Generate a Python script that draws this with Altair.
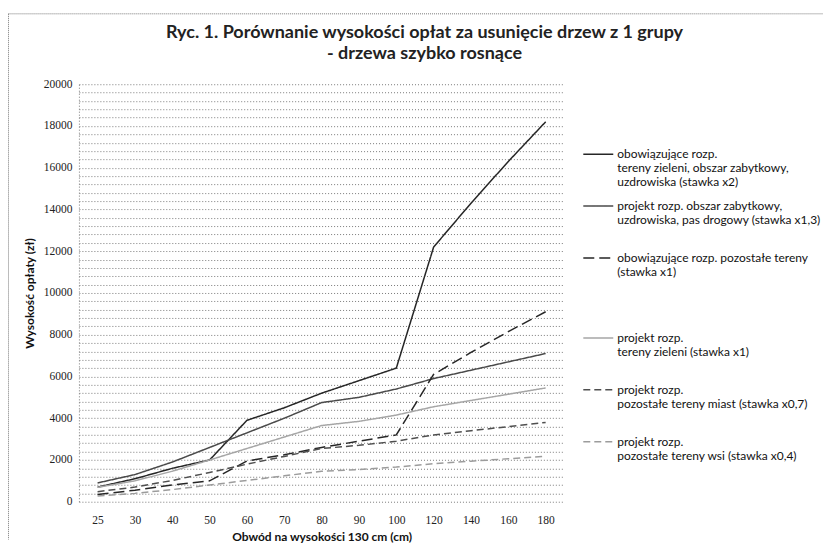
import altair as alt
import pandas as pd

# --- data ---
obwod = ["25", "30", "40", "50", "60", "70", "80", "90", "100", "120", "140", "160", "180"]

serie = [
    "obowiązujące rozp.|tereny zieleni, obszar zabytkowy,|uzdrowiska (stawka x2)",
    "projekt rozp. obszar zabytkowy,|uzdrowiska, pas drogowy (stawka x1,3)| ",
    "obowiązujące rozp. pozostałe tereny|(stawka x1)| | | ",
    "projekt rozp.|tereny zieleni (stawka x1)| ",
    "projekt rozp.|pozostałe tereny miast (stawka x0,7)| ",
    "projekt rozp.|pozostałe tereny wsi (stawka x0,4)",
]

s_obow_x2 = [700, 1100, 1600, 2000, 3900, 4500, 5200, 5800, 6400, 12200, 14300, 16300, 18200]
s_proj_x13 = [900, 1300, 1900, 2600, 3300, 4000, 4750, 5000, 5400, 5900, 6300, 6700, 7100]
s_obow_x1 = [350, 550, 800, 1000, 1950, 2250, 2600, 2900, 3200, 6100, 7150, 8150, 9100]
s_proj_x1 = [690, 1000, 1460, 2000, 2550, 3100, 3650, 3850, 4150, 4550, 4850, 5150, 5450]
s_proj_x07 = [480, 700, 1020, 1400, 1800, 2170, 2550, 2700, 2900, 3200, 3400, 3600, 3800]
s_proj_x04 = [280, 400, 580, 800, 1020, 1240, 1460, 1540, 1660, 1820, 1940, 2060, 2180]

values = [s_obow_x2, s_proj_x13, s_obow_x1, s_proj_x1, s_proj_x07, s_proj_x04]

colors = ["#262626", "#4a4a4a", "#262626", "#a6a6a6", "#4f4f4f", "#9c9c9c"]
dashes = [[1, 0], [1, 0], [11, 5], [1, 0], [7, 4], [7, 4]]

rows = []
for name, vals in zip(serie, values):
    for x, v in zip(obwod, vals):
        rows.append({"obwod": x, "seria": name, "wartosc": v})
df = pd.DataFrame(rows)

sans = "Lato, 'Open Sans', sans-serif"
serif = "'Liberation Serif', 'DejaVu Serif', serif"

legend = alt.Legend(
    title=None,
    orient="none",
    legendX=504,
    legendY=54,
    symbolType="stroke",
    symbolSize=900,
    symbolStrokeWidth=1.5,
    labelExpr="split(datum.label, '|')",
    labelFont=sans,
    labelFontSize=12,
    labelBaseline="middle",
    labelOffset=3,
    labelLimit=212,
    labelColor="#111111",
    rowPadding=2,
    padding=0,
)

lines = alt.Chart(df).mark_line(strokeWidth=1.5).encode(
    x=alt.X(
        "obwod:N",
        sort=obwod,
        scale=alt.Scale(type="point", padding=0.5),
        axis=alt.Axis(
            title="Obwód  na wysokości 130 cm (cm)",
            labelAngle=0,
            ticks=False,
            tickSize=0,
            domain=False,
            grid=False,
            labelFont=serif,
            labelFontSize=11.5,
            labelColor="#222222",
            labelPadding=13,
            titleFont=sans,
            titleFontSize=12,
            titleFontWeight="bold",
            titleColor="#111111",
            titlePadding=5,
        ),
    ),
    y=alt.Y(
        "wartosc:Q",
        scale=alt.Scale(domain=[0, 20000], nice=False),
        axis=alt.Axis(
            title="Wysokość opłaty (zł)",
            values=list(range(0, 20001, 400)),
            labelExpr="datum.value % 2000 == 0 ? datum.label : ''",
            format="d",
            ticks=False,
            tickSize=0,
            grid=True,
            gridColor="#7a7a7a",
            gridDash=[1, 2],
            gridWidth=1,
            domain=True,
            domainColor="#7a7a7a",
            domainDash=[1, 2],
            labelFont=serif,
            labelFontSize=11.5,
            labelColor="#222222",
            labelPadding=7,
            titleFont=sans,
            titleFontSize=12,
            titleFontWeight="bold",
            titleColor="#111111",
            titlePadding=7,
        ),
    ),
    color=alt.Color("seria:N", sort=serie, scale=alt.Scale(domain=serie, range=colors), legend=legend),
    strokeDash=alt.StrokeDash("seria:N", sort=serie, scale=alt.Scale(domain=serie, range=dashes), legend=legend),
)

frame_src = alt.Data(values=[{}])
frame_top = alt.Chart(frame_src).mark_rule(color="#777777", strokeDash=[1, 1], strokeWidth=1).encode(
    x=alt.value(-70.5), x2=alt.value(745), y=alt.value(-70.5)
)
frame_left = alt.Chart(frame_src).mark_rule(color="#777777", strokeDash=[1, 1], strokeWidth=1).encode(
    x=alt.value(-70.5), y=alt.value(-70.5), y2=alt.value(456)
)

chart = alt.layer(frame_top, frame_left, lines).properties(
    width=486,
    height=418,
    padding={"left": 0, "top": 5, "right": 0, "bottom": 0},
    title=alt.TitleParams(
        text=["Ryc. 1. Porównanie wysokości opłat za usunięcie drzew z 1 grupy", "- drzewa szybko rosnące"],
        font=sans,
        fontSize=18,
        fontWeight="bold",
        color="#222222",
        anchor="middle",
        frame="group",
        dx=103,
        offset=-50,
        lineHeight=21,
    ),
).configure_view(stroke=None)

chart.save("out.html", embed_options={"renderer": "svg", "actions": False})
